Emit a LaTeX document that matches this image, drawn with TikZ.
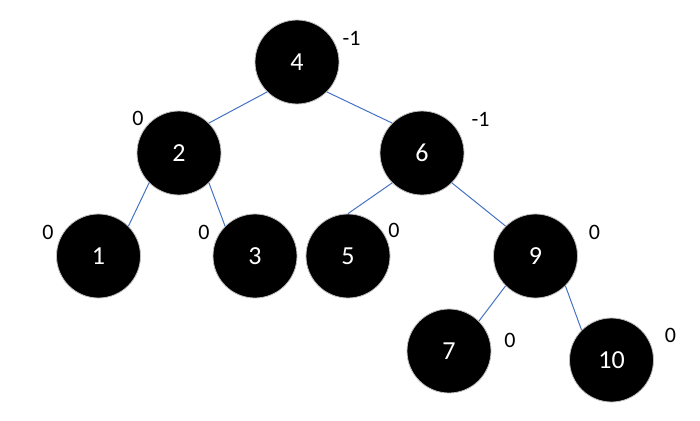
\documentclass[tikz,border=0pt]{standalone}
\usepackage{fontspec}
\setmainfont{Carlito}
\definecolor{edgeblue}{HTML}{4472C4}
\definecolor{rimgray}{HTML}{BFBFBF}
\tikzset{
  treenode/.style={circle, fill=black, draw=rimgray, line width=0.8pt, minimum size=84pt, inner sep=0pt, text=white, font=\fontsize{26}{30}\selectfont},
  bal/.style={inner sep=0pt, font=\fontsize{22}{26}\selectfont},
  link/.style={draw=edgeblue, line width=1pt}
}
\begin{document}
\begin{tikzpicture}[x=1pt,y=-1pt]
\useasboundingbox (0,0) rectangle (700,420);
\node[treenode] (n4) at (297,62) {4};
\node[treenode] (n2) at (179,153) {2};
\node[treenode] (n6) at (422,153) {6};
\node[treenode] (n1) at (98.5,256) {1};
\node[treenode] (n3) at (255,256) {3};
\node[treenode] (n5) at (348,256) {5};
\node[treenode] (n9) at (535.5,256) {9};
\node[treenode] (n7) at (449,351) {7};
\node[treenode] (n10) at (611.5,360) {10};
\draw[link] (n4.225) -- (n2.45);
\draw[link] (n4.315) -- (n6.135);
\draw[link] (n2.225) -- (n1.45);
\draw[link] (n2.315) -- (n3.135);
\draw[link] (n6.225) -- (n5.90);
\draw[link] (n6.315) -- (n9.135);
\draw[link] (n9.225) -- (n7.45);
\draw[link] (n9.315) -- (n10.135);
\node[bal] (b4) at (351.5,38) {-1};
\node[bal] (b2) at (138,118.5) {0};
\node[bal] (b6) at (480.5,119.5) {-1};
\node[bal] (b1) at (48,232) {0};
\node[bal] (b3) at (204,232) {0};
\node[bal] (b5) at (394,230) {0};
\node[bal] (b9) at (594.5,232) {0};
\node[bal] (b7) at (510,340) {0};
\node[bal] (b10) at (670.5,335) {0};
\end{tikzpicture}
\end{document}
